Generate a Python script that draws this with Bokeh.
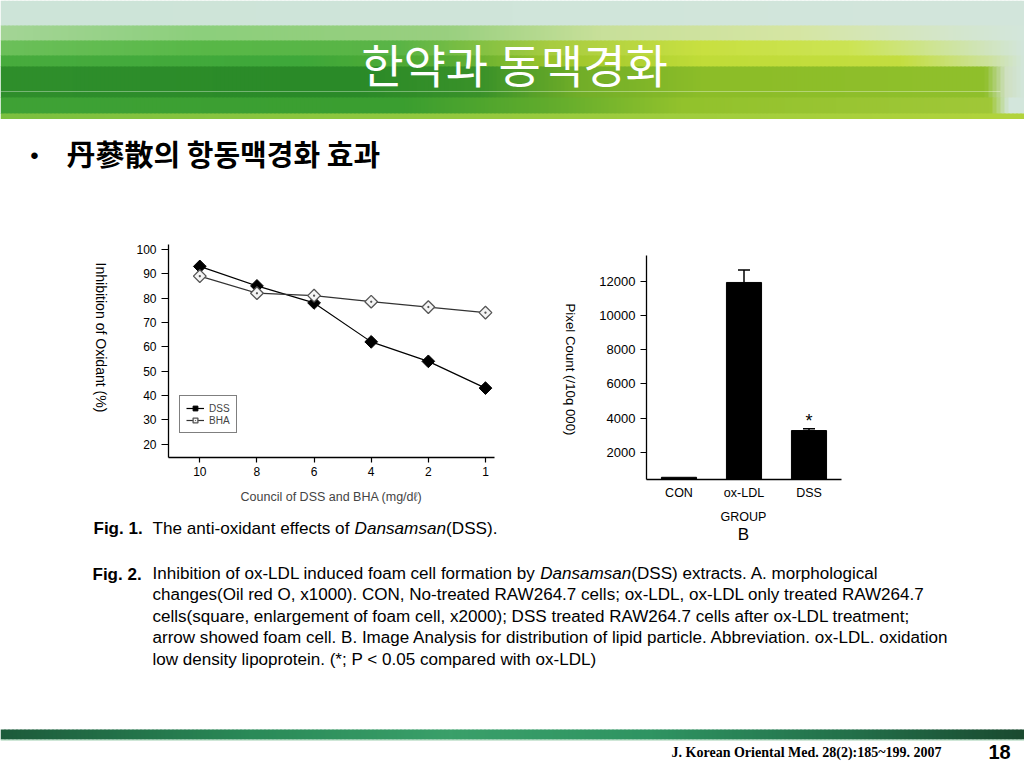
import numpy as np
from bokeh.plotting import figure
from bokeh.models import (Range1d, FactorRange, Legend, LegendItem, Whisker,
                          ColumnDataSource, TeeHead, FixedTicker, Spacer)
from bokeh.layouts import column, row
from bokeh.embed import file_html
from bokeh.resources import INLINE
from bokeh.core.properties import value

# ---------------- data ----------------
doses = ["10", "8", "6", "4", "2", "1"]
dss_inhibition = [93, 85, 78, 62, 54, 43]
bha_inhibition = [89, 82, 81, 78.5, 76.3, 74]
inhibition_ticks = [20, 30, 40, 50, 60, 70, 80, 90, 100]

groups = ["CON", "ox-LDL", "DSS"]
pixel_count = [530, 11950, 3270]
pixel_error = [0, 730, 100]
significant = ["DSS"]
pixel_ticks = [2000, 4000, 6000, 8000, 10000, 12000]

title_text = "한약과 동맥경화"
bullet_text = "丹蔘散의 항동맥경화 효과"
chart1_xlabel = "Council of DSS and BHA (mg/dℓ)"
chart1_ylabel = "Inhibition of Oxidant (%)"
chart2_xlabel = "GROUP"
chart2_ylabel = "Pixel Count (/10q 000)"
chart2_panel = "B"
fig1_label = "Fig. 1."
fig1_parts = [("The anti-oxidant effects of ", "normal"), ("Dansamsan", "italic"), ("(DSS).", "normal")]
fig2_label = "Fig. 2."
fig2_lines = [
    [("Inhibition of ox-LDL induced foam cell formation by ", "normal"), ("Dansamsan", "italic"),
     ("(DSS) extracts. A. morphological", "normal")],
    [("changes(Oil red O, x1000). CON, No-treated RAW264.7 cells; ox-LDL, ox-LDL only treated RAW264.7", "normal")],
    [("cells(square, enlargement of foam cell, x2000); DSS treated RAW264.7 cells after ox-LDL treatment;", "normal")],
    [("arrow showed foam cell. B. Image Analysis for distribution of lipid particle. Abbreviation. ox-LDL. oxidation", "normal")],
    [("low density lipoprotein. (*; P < 0.05 compared with ox-LDL)", "normal")],
]
citation = "J. Korean Oriental Med. 28(2):185~199. 2007"
page_number = "18"

SANS = "Liberation Sans"
KR = "Noto Sans CJK KR"

# Arial / Liberation Sans advance widths (1/1000 em)
_W = {' ': 278, '!': 278, '"': 355, '#': 556, '$': 556, '%': 889, '&': 667, "'": 191, '(': 333, ')': 333,
      '*': 389, '+': 584, ',': 278, '-': 333, '.': 278, '/': 278, ':': 278, ';': 278, '<': 584, '=': 584,
      '>': 584, '?': 556, '@': 1015, 'A': 667, 'B': 667, 'C': 722, 'D': 722, 'E': 667, 'F': 611, 'G': 778,
      'H': 722, 'I': 278, 'J': 500, 'K': 667, 'L': 556, 'M': 833, 'N': 722, 'O': 778, 'P': 667, 'Q': 778,
      'R': 722, 'S': 667, 'T': 611, 'U': 722, 'V': 667, 'W': 944, 'X': 667, 'Y': 667, 'Z': 611,
      'a': 556, 'b': 556, 'c': 500, 'd': 556, 'e': 556, 'f': 278, 'g': 556, 'h': 556, 'i': 222, 'j': 222,
      'k': 500, 'l': 222, 'm': 833, 'n': 556, 'o': 556, 'p': 556, 'q': 556, 'r': 333, 's': 500, 't': 278,
      'u': 556, 'v': 500, 'w': 722, 'x': 500, 'y': 500, 'z': 500}


def em(s):
    return sum(_W.get(c, 556) for c in s) / 1000.0


def hex2rgb(h):
    h = h.lstrip('#')
    return [int(h[i:i + 2], 16) for i in (0, 2, 4)]


def gradient(stops, xs):
    sx = [s[0] for s in stops]
    rgb = np.array([hex2rgb(s[1]) for s in stops], dtype=float)
    r = np.interp(xs, sx, rgb[:, 0]); g = np.interp(xs, sx, rgb[:, 1]); b = np.interp(xs, sx, rgb[:, 2])
    return ["#%02x%02x%02x" % (int(a), int(c), int(d)) for a, c, d in zip(r, g, b)]


def no_align(p):
    if "frame_align" in p.properties():
        p.frame_align = False
    return p


def canvas(x0, x1, y0, y1):
    p = figure(width=x1 - x0, height=y1 - y0, x_range=Range1d(x0, x1), y_range=Range1d(y1, y0),
               output_backend="svg", toolbar_location=None, min_border=0,
               x_axis_location=None, y_axis_location=None, title=None)
    p.grid.visible = False
    p.outline_line_color = None
    p.background_fill_color = "white"
    p.border_fill_color = "white"
    return no_align(p)


def put_text(p, x, y, s, size, style="normal", font=SANS, color="black", align="left",
             baseline="middle", angle=0.0):
    p.text(x=[x], y=[y], text=[s], text_font=value(font), text_font_size=f"{size:.2f}px",
           text_font_style=style, text_color=color, text_align=align, text_baseline=baseline, angle=angle)


def style_axis(ax, size):
    ax.axis_line_color = "black"
    ax.axis_line_width = 1.3
    ax.major_tick_line_color = "black"
    ax.major_tick_line_width = 1.2
    ax.minor_tick_line_color = None
    ax.major_tick_in = 0
    ax.major_label_text_font = SANS
    ax.major_label_text_font_size = size
    ax.major_label_text_color = "black"


# ---------------- header (banner + bullet) ----------------
hdr = canvas(0, 1024, 0, 235)
STEP = 4
xs = np.arange(0, 1024, STEP)
rows = [
    (0, 25, [(0, "#cde4d8"), (1024, "#d3e6dc")]),
    (25, 40, [(0, "#a4d596"), (200, "#8ccf7c"), (450, "#9ad080"), (600, "#c8e09a"), (800, "#d6e6a4"),
              (950, "#d4e6cc"), (1024, "#d3e6dc")]),
    (40, 55, [(0, "#6cc05a"), (200, "#58b848"), (400, "#5ab446"), (550, "#a8cc40"), (700, "#c8e040"),
              (850, "#cce454"), (960, "#cfe4a8"), (1024, "#d3e6dc")]),
    (55, 66, [(0, "#48ac3e"), (300, "#3ea83a"), (450, "#58ac34"), (550, "#9cc42c"), (700, "#c0dc38"),
              (900, "#c4de40"), (990, "#cde2a0"), (1024, "#d3e6dc")]),
    (66, 97, [(0, "#2f8f2c"), (350, "#2a8a28"), (480, "#3a922a"), (580, "#72ae28"), (700, "#8cbd28"),
              (985, "#90c02c"), (1005, "#cfe0c0"), (1024, "#d3e6dc")]),
    (97, 113, [(0, "#3fa236"), (400, "#3a9e30"), (550, "#62ac2c"), (680, "#92c22c"), (990, "#a0c838"),
               (1008, "#d3e6dc"), (1024, "#d3e6dc")]),
    (113, 118, [(0, "#7cc040"), (1024, "#b2d43c")]),
]
for y0, y1, stops in rows:
    hdr.quad(left=xs, right=xs + STEP + 1, top=y0, bottom=y1 + 0.5, color=gradient(stops, xs + STEP / 2),
             line_color=None)
hdr.segment(x0=[0], x1=[1000], y0=[91], y1=[91], line_color="white", line_alpha=0.35, line_width=1)
put_text(hdr, 514, 62, title_text, 46, font=KR, color="white", align="center")
put_text(hdr, 34, 155, "•", 24, align="center")
put_text(hdr, 66, 152, bullet_text, 29, style="bold", font=KR)

# ---------------- middle row ----------------
ROW_T, ROW_B = 235, 508
RH = ROW_B - ROW_T

# y label strip for chart 1 (text runs downward from its top end)
ylab1 = canvas(0, 130, ROW_T, ROW_B)
put_text(ylab1, 100, 262, chart1_ylabel, (412 - 262) / em(chart1_ylabel), align="left", angle=-np.pi / 2)

# chart 1: inhibition of oxidant
X1 = (-0.548, 5.158)
Y1 = (14.5, 102.0)
P1L, P1W = 130, 425
F1L, F1T, F1W, F1H = 168, 244, 326, 213
p1 = figure(width=P1W, height=RH, x_range=Range1d(*X1), y_range=Range1d(*Y1),
            min_border_left=F1L - P1L, min_border_right=P1W - (F1L - P1L) - F1W,
            min_border_top=F1T - ROW_T, min_border_bottom=RH - (F1T - ROW_T) - F1H,
            output_backend="svg", toolbar_location=None, title=None)
no_align(p1)
p1.grid.visible = False
p1.outline_line_color = None
xpos = list(range(len(doses)))
l1 = p1.line(xpos, dss_inhibition, line_color="black", line_width=1.2)
m1 = p1.scatter(xpos, dss_inhibition, marker="square", angle=np.pi / 4, size=9,
                fill_color="black", line_color="black")
l2 = p1.line(xpos, bha_inhibition, line_color="#333333", line_width=1.2)
m2 = p1.scatter(xpos, bha_inhibition, marker="square_dot", angle=np.pi / 4, size=9,
                fill_color="#f4f4f4", line_color="#555555", line_width=1.3)
style_axis(p1.xaxis[0], "12px")
style_axis(p1.yaxis[0], "12px")
p1.xaxis.ticker = FixedTicker(ticks=xpos)
p1.xaxis.major_label_overrides = {i: d for i, d in enumerate(doses)}
p1.xaxis.major_tick_out = 5
p1.xaxis.major_label_standoff = 4
p1.xaxis.axis_label = chart1_xlabel
p1.xaxis.axis_label_text_font = SANS
p1.xaxis.axis_label_text_font_style = "normal"
p1.xaxis.axis_label_text_font_size = "12.5px"
p1.xaxis.axis_label_standoff = 11
p1.yaxis.ticker = FixedTicker(ticks=inhibition_ticks)
p1.yaxis.major_tick_out = 7
p1.yaxis.major_label_standoff = 5
leg = Legend(items=[LegendItem(label="DSS", renderers=[l1, m1]), LegendItem(label="BHA", renderers=[l2, m2])],
             location=(11, 24), border_line_color="black", border_line_width=1,
             background_fill_color="white", background_fill_alpha=1.0,
             label_text_font=SANS, label_text_font_size="10px", glyph_width=18, glyph_height=12,
             label_height=12, label_standoff=5, padding=6, spacing=0, margin=0)
p1.add_layout(leg)

# y label strip for chart 2
ylab2 = canvas(555, 590, ROW_T, ROW_B)
put_text(ylab2, 570, 303, chart2_ylabel, (435 - 303) / em(chart2_ylabel), align="left", angle=-np.pi / 2)

# chart 2: pixel count
Y2 = (400.0, 13530.0)
P2L, P2W = 590, 340
F2L, F2T, F2W, F2H = 646, 255, 195, 224
p2 = figure(width=P2W, height=RH, x_range=FactorRange(factors=groups), y_range=Range1d(*Y2),
            min_border_left=F2L - P2L, min_border_right=P2W - (F2L - P2L) - F2W,
            min_border_top=F2T - ROW_T, min_border_bottom=RH - (F2T - ROW_T) - F2H,
            output_backend="svg", toolbar_location=None, title=None)
no_align(p2)
p2.grid.visible = False
p2.outline_line_color = None
p2.vbar(x=groups, top=pixel_count, width=0.54, fill_color="black", line_color="black")
err_idx = [i for i, e in enumerate(pixel_error) if e > 0]
wsrc = ColumnDataSource(dict(x=[groups[i] for i in err_idx],
                             lower=[pixel_count[i] for i in err_idx],
                             upper=[pixel_count[i] + pixel_error[i] for i in err_idx]))
p2.add_layout(Whisker(source=wsrc, base="x", lower="lower", upper="upper", dimension="height",
                      line_color="black", line_width=1.5,
                      upper_head=TeeHead(size=12, line_color="black", line_width=1.5), lower_head=None))
sig_top = [pixel_count[groups.index(g)] + pixel_error[groups.index(g)] for g in significant]
p2.text(x=significant, y=sig_top, text=["*"] * len(significant), y_offset=-8,
        text_font=value(SANS), text_font_size="18px", text_align="center", text_baseline="alphabetic")
style_axis(p2.xaxis[0], "12.5px")
style_axis(p2.yaxis[0], "13px")
p2.xaxis.major_tick_out = 0
p2.xaxis.major_label_standoff = 6
p2.yaxis.ticker = FixedTicker(ticks=pixel_ticks)
p2.yaxis.major_tick_out = 6
p2.yaxis.major_label_standoff = 5

# ---------------- bottom: captions + footer ----------------
bot = canvas(0, 1024, ROW_B, 768)
put_text(bot, 743, 516, chart2_xlabel, 12.5, align="center")
put_text(bot, 743, 534, chart2_panel, 17, align="center")

put_text(bot, 93, 528, fig1_label, 17, style="bold")
fs1 = (497 - 152) / sum(em(t) for t, _ in fig1_parts)
cx = 152.0
for t, st in fig1_parts:
    put_text(bot, cx, 527, t, fs1, style=st)
    cx += em(t) * fs1

line_y = [573, 594, 616, 637, 659]
line_right = [876, 928, 926, 930, 660]
fs2 = float(np.median([(r - 152) / sum(em(t) for t, _ in ln) for r, ln in zip(line_right[:4], fig2_lines[:4])]))
put_text(bot, 92, line_y[0] + 1, fig2_label, 17, style="bold")
for y, ln in zip(line_y, fig2_lines):
    cx = 152.0
    for t, st in ln:
        put_text(bot, cx, y, t, fs2, style=st)
        cx += em(t) * fs2

fx = np.arange(0, 1024, STEP)
bot.quad(left=fx, right=fx + STEP + 1, top=729, bottom=739,
         color=gradient([(0, "#1d5b3b"), (250, "#2a8a58"), (450, "#3aa06a"), (650, "#2f9462"),
                         (850, "#23704a"), (1024, "#1a4a30")], fx + STEP / 2), line_color=None)
bot.segment(x0=[0], x1=[1024], y0=[739.5], y1=[739.5], line_color="#9fd0b0", line_width=1)
put_text(bot, 941, 752, citation, 14, style="bold", font="Liberation Serif", align="right")
put_text(bot, 999, 751, page_number, 20, style="bold", align="center")

layout = column(hdr,
                row(ylab1, p1, ylab2, p2, Spacer(width=1024 - 930, height=RH)),
                bot)

open("out.html", "w").write(file_html(layout, INLINE))
